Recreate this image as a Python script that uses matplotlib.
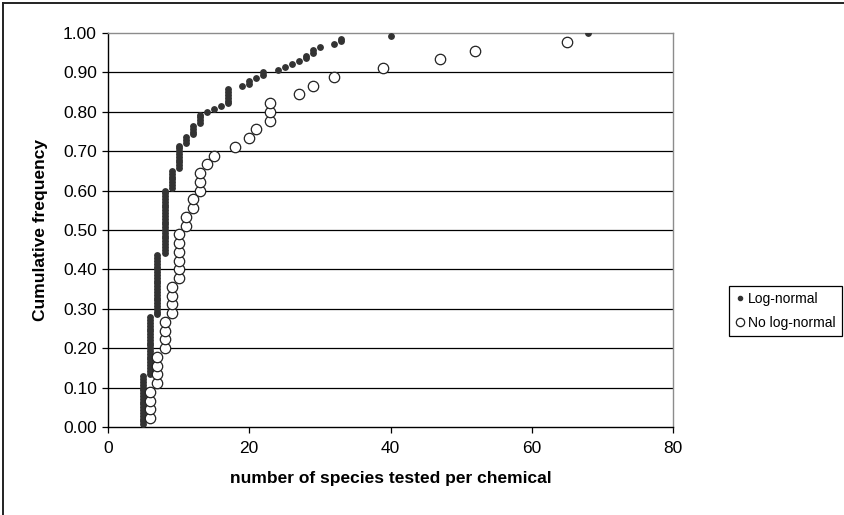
import numpy as np
import matplotlib
matplotlib.use("Agg")
import matplotlib.pyplot as plt
from matplotlib.lines import Line2D

plt.rcParams['font.family'] = ['Liberation Sans', 'DejaVu Sans']

# nombre d'especes testees par substance -> nombre de substances
lognormal_x = [5, 6, 7, 8, 9, 10, 11, 12, 13, 14, 15, 16, 17, 19, 20, 21, 22,
               24, 25, 26, 27, 28, 29, 30, 32, 33, 40, 68]
lognormal_nb = [18, 21, 22, 23, 7, 9, 3, 4, 4, 1, 1, 1, 6, 1, 2, 1, 2,
                1, 1, 1, 1, 2, 2, 1, 1, 2, 1, 1]

non_lognormal_x = [6, 7, 8, 9, 10, 11, 12, 13, 14, 15, 18, 20, 21, 23, 27, 29,
                   32, 39, 47, 52, 65]
non_lognormal_nb = [4, 4, 4, 4, 6, 2, 2, 3, 1, 1, 1, 1, 1, 3, 1, 1,
                    1, 1, 1, 1, 1]

y_ticks = [0.0, 0.1, 0.2, 0.3, 0.4, 0.5, 0.6, 0.7, 0.8, 0.9, 1.0]
x_ticks = [0, 20, 40, 60, 80]


def frequence_cumulee(valeurs, effectifs, decalage=0):
    """frequence cumulee : rang / (n + decalage)"""
    points = np.repeat(valeurs, effectifs)
    n = len(points)
    return points, np.arange(1, n + 1) / (n + decalage)


x_ln, y_ln = frequence_cumulee(lognormal_x, lognormal_nb)
x_nl, y_nl = frequence_cumulee(non_lognormal_x, non_lognormal_nb, decalage=1)

fig = plt.figure(figsize=(8.44, 5.15), dpi=100)
ax = fig.add_axes([108 / 844, 88 / 515, 565 / 844, 394 / 515])

# cadre exterieur (gauche + haut)
fig.add_artist(Line2D([3 / 844, 3 / 844], [0, 1 - 3 / 515], color='#222222', lw=1.4))
fig.add_artist(Line2D([3 / 844, 1], [1 - 3 / 515, 1 - 3 / 515], color='#222222', lw=1.4))

for t in y_ticks[1:-1]:
    ax.axhline(t, color='black', lw=0.9, zorder=1)

ax.plot(x_ln, y_ln, 'o', ms=3.9, color='#333333', mec='#333333', zorder=3,
        label='Log-normal')
ax.plot(x_nl, y_nl, 'o', ms=7.5, mfc='white', mec='#222222', mew=0.9, zorder=4,
        label='No log-normal')

ax.set_xlim(0, 80)
ax.set_ylim(0, 1)
ax.set_xticks(x_ticks)
ax.set_yticks(y_ticks)
ax.set_yticklabels([f"{t:.2f}" for t in y_ticks])
ax.tick_params(axis='both', direction='out', length=4, width=0.9,
               labelsize=12.5, colors='black', pad=4)
ax.tick_params(axis='x', pad=6)

ax.spines['left'].set_color('black')
ax.spines['bottom'].set_color('black')
ax.spines['top'].set_color('#8c8c8c')
ax.spines['right'].set_color('#8c8c8c')
for s in ax.spines.values():
    s.set_linewidth(1.0)

ax.set_xlabel('number of species tested per chemical', fontsize=12.5,
              fontweight='bold', labelpad=11)
ax.set_ylabel('Cumulative frequency', fontsize=12.5, fontweight='bold',
              labelpad=11)

poignees = [
    Line2D([], [], ls='none', marker='o', ms=3, color='#333333'),
    Line2D([], [], ls='none', marker='o', ms=6, mfc='white', mec='#222222', mew=0.9),
]
leg = fig.legend(poignees, ['Log-normal', 'No log-normal'],
                 loc='center right', bbox_to_anchor=(842 / 844, 1 - 311 / 515),
                 fontsize=10, frameon=True, fancybox=False, framealpha=1,
                 edgecolor='black', borderpad=0.45, handlelength=0.6,
                 handletextpad=0.3, labelspacing=0.75, borderaxespad=0)
leg.get_frame().set_linewidth(0.9)

fig.savefig('out.png', dpi=100)
